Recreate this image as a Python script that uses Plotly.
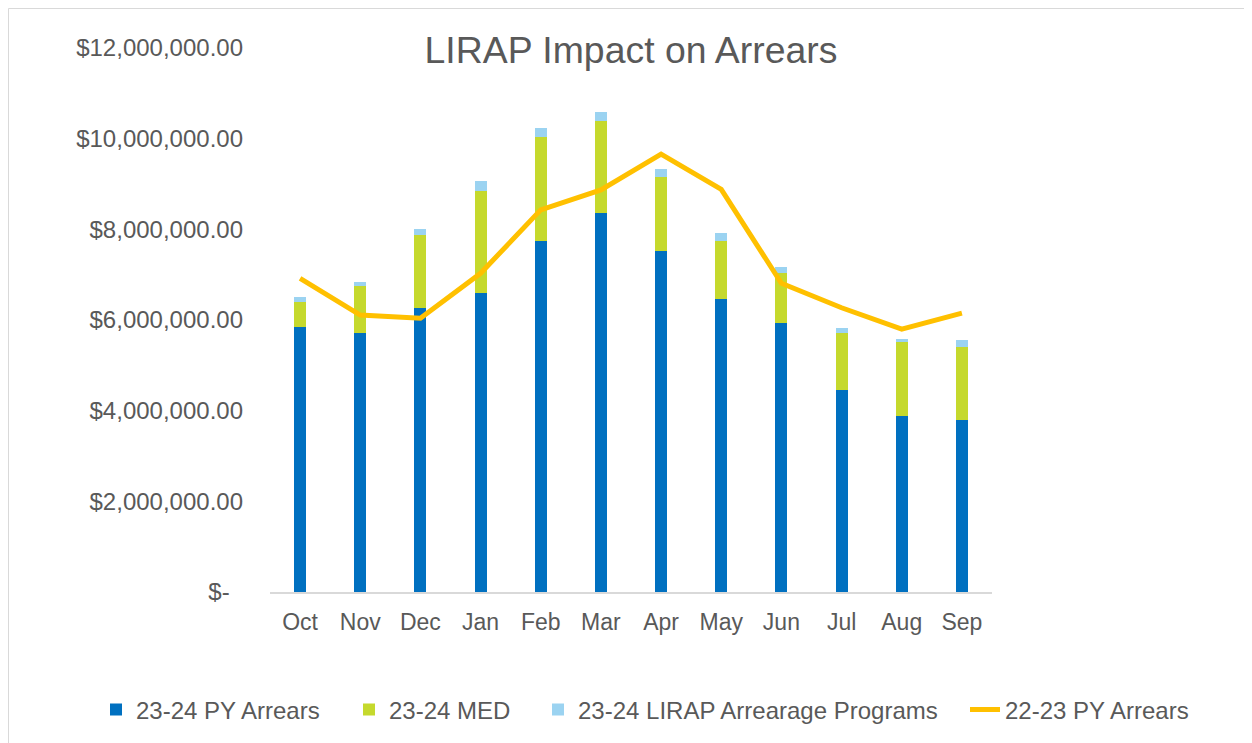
import plotly.graph_objects as go

months = ["Oct", "Nov", "Dec", "Jan", "Feb", "Mar", "Apr", "May", "Jun", "Jul", "Aug", "Sep"]
py_arrears_2324 = [5850000, 5710000, 6270000, 6590000, 7750000, 8350000, 7520000, 6460000, 5940000, 4460000, 3890000, 3790000]
med_2324 = [540000, 1030000, 1610000, 2260000, 2290000, 2030000, 1630000, 1280000, 1100000, 1250000, 1620000, 1620000]
lirap_2324 = [120000, 100000, 130000, 220000, 200000, 200000, 180000, 190000, 130000, 120000, 60000, 140000]
py_arrears_2223 = [6920000, 6110000, 6040000, 7030000, 8430000, 8870000, 9660000, 8880000, 6810000, 6270000, 5800000, 6150000]

tick_vals = [0, 2000000, 4000000, 6000000, 8000000, 10000000, 12000000]
tick_text = ["$-\u00a0\u00a0", "$2,000,000.00", "$4,000,000.00", "$6,000,000.00",
             "$8,000,000.00", "$10,000,000.00", "$12,000,000.00"]

FONT = "Liberation Sans, Arial, sans-serif"
GRAY = "#595959"
W, H = 1252, 743

fig = go.Figure()
fig.add_trace(go.Bar(x=months, y=py_arrears_2324, name="23-24 PY Arrears", marker_color="#0070C0",
                     marker_line_width=0, legend="legend"))
fig.add_trace(go.Bar(x=months, y=med_2324, name="23-24 MED", marker_color="#C5D92D",
                     marker_line_width=0, legend="legend2"))
fig.add_trace(go.Bar(x=months, y=lirap_2324, name="23-24 LIRAP Arrearage Programs", marker_color="#9BD3F1",
                     marker_line_width=0, legend="legend3"))
fig.add_trace(go.Scatter(x=months, y=py_arrears_2223, name="22-23 PY Arrears", mode="lines",
                         line=dict(color="#FFC000", width=5), legend="legend4"))


def legend_at(text_left_px):
    return dict(orientation="h", x=(text_left_px - 8 - 40) / W, xanchor="left",
                y=1 - 702 / H, yanchor="middle",
                font=dict(size=24, color=GRAY, family=FONT),
                itemsizing="constant", bgcolor="rgba(0,0,0,0)")


fig.update_layout(
    barmode="stack",
    bargap=0.8,
    width=W, height=H,
    margin=dict(l=0, r=0, t=0, b=0, autoexpand=False),
    paper_bgcolor="white",
    plot_bgcolor="white",
    font=dict(family=FONT, color=GRAY, size=23),
    title=dict(text="LIRAP Impact on Arrears", x=623 / W, xref="container", xanchor="center",
               y=1 - 42 / H, yref="container", yanchor="middle",
               font=dict(size=37.4, color=GRAY, family=FONT)),
    legend=legend_at(136),
    legend2=legend_at(389),
    legend3=legend_at(578),
    legend4=legend_at(1005),
    showlegend=True,
)
fig.update_xaxes(domain=[262 / W, 984 / W], showline=True, linecolor="#D9D9D9", linewidth=1.5,
                 showgrid=False, ticks="", tickfont=dict(size=23, color=GRAY), ticklabelstandoff=9)
fig.update_yaxes(domain=[1 - 584 / H, 1 - 40 / H], range=[0, 12000000], tickvals=tick_vals,
                 ticktext=tick_text, showgrid=False, zeroline=False, showline=False, ticks="",
                 tickfont=dict(size=24, color=GRAY), ticklabelstandoff=26)

# chart-area border
fig.add_shape(type="rect", xref="paper", yref="paper",
              x0=0.5 / W, x1=1.2, y0=-0.2, y1=1 - 0.5 / H,
              line=dict(color="#D9D9D9", width=1), fillcolor="rgba(0,0,0,0)", layer="below")

fig.write_html("out.html")
